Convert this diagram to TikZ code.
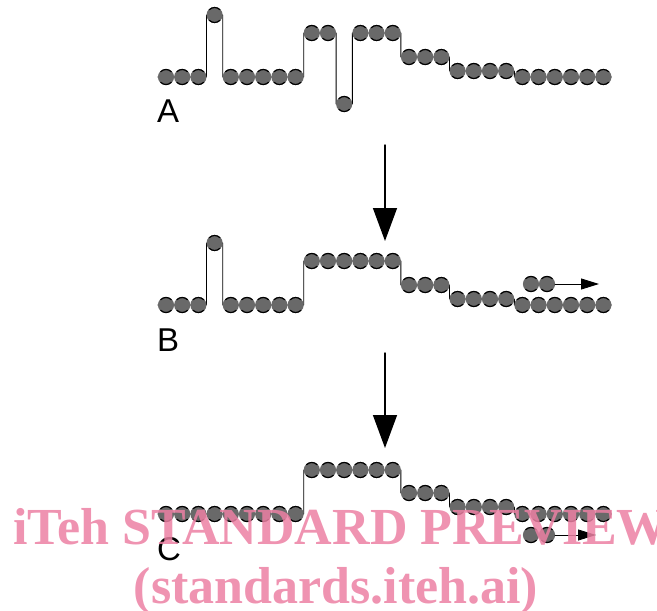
\documentclass[tikz,border=0pt]{standalone}
\usepackage{fontspec}
\setmainfont{Liberation Serif}
\setsansfont{Liberation Sans}
\usetikzlibrary{arrows.meta}
\definecolor{ballgray}{RGB}{105,105,105}
\definecolor{markpink}{RGB}{236,128,163}
% heights of the 28 balls in each row
\newcommand\rowA{77,77,77,15,77,77,77,77,77,33,33,104,33,33,33,57,57,57,71,71,71,71,77,77,77,77,77,77}
\newcommand\rowB{305,305,305,243,305,305,305,305,305,261,261,261,261,261,261,285,285,285,299,299,299,299,305,305,305,305,305,305}
\newcommand\rowC{514,514,514,514,514,514,514,514,514,470,470,470,470,470,470,493,493,493,507,507,507,507,514,514,514,514,514,514}
\begin{document}
\begin{tikzpicture}[x=1pt,y=-1pt, line join=round, line cap=round,
		profile/.style={line width=0.9pt},
		ball/.pic={\fill[ballgray] (0,0) circle (8.1pt);
			\draw[line width=1.2pt] (45:7.5pt) arc (45:135:7.5pt);
			\draw[line width=1.2pt] (225:7.5pt) arc (225:315:7.5pt);},
		bigarrow/.style={-{Triangle[length=33pt,width=24pt]},line width=1.4pt},
		smallarrow/.style={-{Triangle[length=18pt,width=11pt]},line width=0.9pt},
		letter/.style={font=\sffamily\fontsize{33}{33}\selectfont,inner sep=0pt,anchor=west},
		watermark/.style={font=\bfseries\fontsize{52}{52}\selectfont,text=markpink,opacity=0.85,inner sep=0pt}]
	\useasboundingbox (0,0) rectangle (657,611);
	% profiles
	\draw[profile] (157.9,77) \foreach \y [count=\k from 0] in \rowA { -- ({157.9+16.2*\k},\y) -- ({174.1+16.2*\k},\y) };
	\draw[profile] (157.9,305) \foreach \y [count=\k from 0] in \rowB { -- ({157.9+16.2*\k},\y) -- ({174.1+16.2*\k},\y) };
	\draw[profile] (157.9,514) \foreach \y [count=\k from 0] in \rowC { -- ({157.9+16.2*\k},\y) -- ({174.1+16.2*\k},\y) };
	% balls
	\foreach \y [count=\k from 0] in \rowA \pic at ({166+16.2*\k},\y) {ball};
	\foreach \y [count=\k from 0] in \rowB \pic at ({166+16.2*\k},\y) {ball};
	\foreach \y [count=\k from 0] in \rowC \pic at ({166+16.2*\k},\y) {ball};
	\pic at (531,284) {ball}; \pic at (547,284) {ball};
	\pic at (531,535) {ball}; \pic at (547,535) {ball};
	% arrows
	\coordinate (topA) at (385,145); \coordinate (tipA) at (385,241);
	\coordinate (topB) at (385,353); \coordinate (tipB) at (385,448);
	\draw[bigarrow] (topA) -- (tipA);
	\draw[bigarrow] (topB) -- (tipB);
	\coordinate (runB) at (555,284); \coordinate (endB) at (599,284);
	\coordinate (runC) at (555,535); \coordinate (endC) at (596,535);
	\draw[smallarrow] (runB) -- (endB);
	\draw[smallarrow] (runC) -- (endC);
	% labels
	\node[letter] (lblA) at (157,111) {A};
	\node[letter] (lblB) at (157,340) {B};
	\node[letter] (lblC) at (157,549) {C};
	\node[watermark,anchor=base west] (markA) at (13,544) {iTeh STANDARD PREVIEW};
	\node[watermark,anchor=base] (markB) at (336,603) {(standards.iteh.ai)};
\end{tikzpicture}
\end{document}
